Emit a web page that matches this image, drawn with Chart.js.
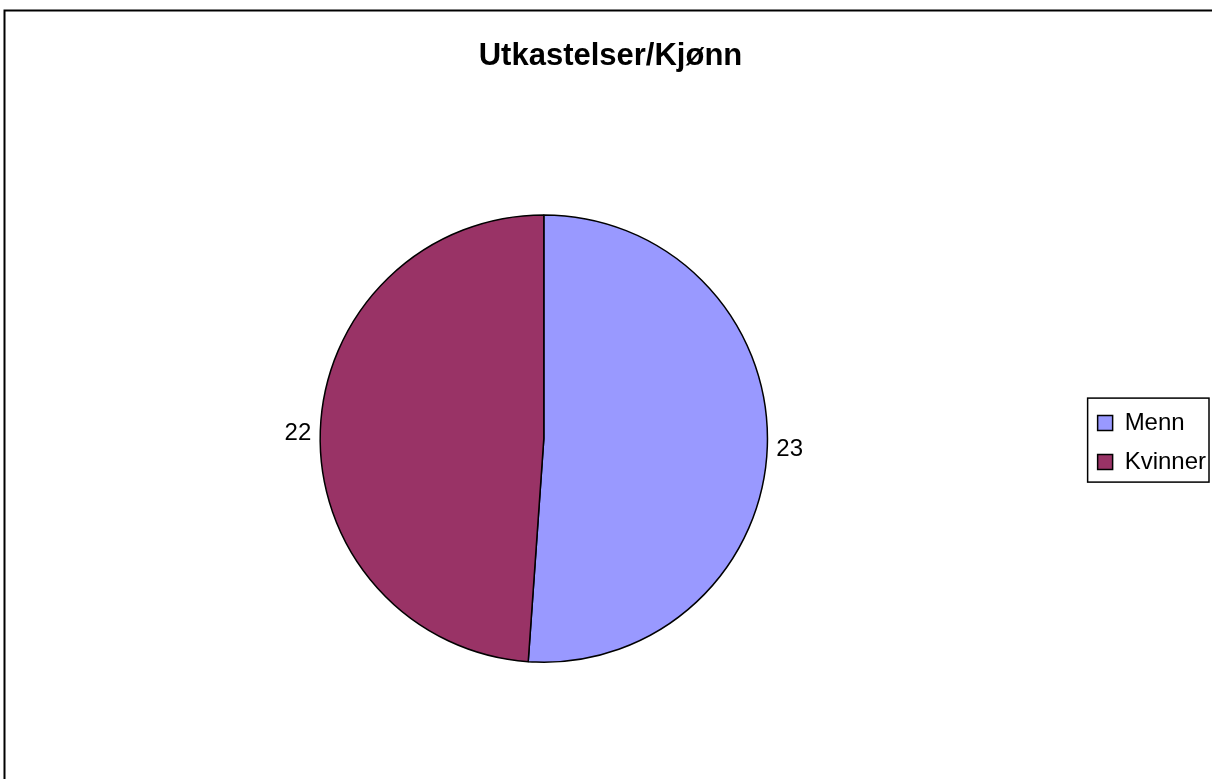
<!DOCTYPE html>
<html lang="no">
<head>
    <meta charset="UTF-8">
    <title>Utkastelser/Kjønn</title>
    <script src="https://cdn.jsdelivr.net/npm/chart.js"></script>
    <style>
        body {
            margin: 0;
            background: white;
        }
        #chart {
            display: block;
        }
    </style>
</head>
<body>
    <canvas id="chart" width="1212" height="779"></canvas>
    <script>
        const categories = ["Menn", "Kvinner"];
        const values = [23, 22];
        const colors = ["#9999FF", "#993366"];

        const fontFamily = "'Liberation Sans', Arial, sans-serif";

        // frame around the whole chart (only top and left edges are visible)
        const framePlugin = {
            id: "frame",
            beforeDraw(chart) {
                const ctx = chart.ctx;
                ctx.save();
                ctx.fillStyle = "white";
                ctx.fillRect(0, 0, chart.width, chart.height);
                ctx.strokeStyle = "black";
                ctx.lineWidth = 2;
                ctx.beginPath();
                ctx.moveTo(4.5, chart.height);
                ctx.lineTo(4.5, 10.5);
                ctx.lineTo(chart.width, 10.5);
                ctx.stroke();
                ctx.restore();
            }
        };

        // value labels just outside each slice
        const valueLabels = {
            id: "valueLabels",
            afterDatasetsDraw(chart) {
                const ctx = chart.ctx;
                const meta = chart.getDatasetMeta(0);
                ctx.save();
                ctx.font = "24px " + fontFamily;
                ctx.fillStyle = "black";
                ctx.textBaseline = "middle";
                meta.data.forEach((arc, i) => {
                    const p = arc.getProps(["x", "y", "startAngle", "endAngle", "outerRadius"], true);
                    const mid = (p.startAngle + p.endAngle) / 2;
                    const r = p.outerRadius + 9;
                    const x = p.x + Math.cos(mid) * r;
                    const y = p.y + Math.sin(mid) * r + 3;
                    ctx.textAlign = Math.cos(mid) >= 0 ? "left" : "right";
                    ctx.fillText(values[i], x, y);
                });
                ctx.restore();
            }
        };

        // centre the legend next to the pie instead of the full canvas height
        const legendPlace = {
            id: "legendPlace",
            afterLayout(chart) {
                const lg = chart.legend;
                const area = chart.chartArea;
                lg.top = area.top + 4;
                lg.bottom = area.bottom + 4;
                lg.height = lg.bottom - lg.top;
                lg.left += 4;
                lg.right += 4;
            }
        };

        // box drawn around the legend
        const legendBox = {
            id: "legendBox",
            afterDraw(chart) {
                const boxes = chart.legend.legendHitBoxes;
                if (!boxes || !boxes.length) return;
                const first = boxes[0];
                const last = boxes[boxes.length - 1];
                let right = 0;
                boxes.forEach(b => { right = Math.max(right, b.left + b.width); });
                const ctx = chart.ctx;
                ctx.save();
                ctx.strokeStyle = "black";
                ctx.lineWidth = 1.5;
                ctx.strokeRect(first.left - 10, first.top - 13, right - first.left + 13, last.top + last.height + 8 - (first.top - 13));
                ctx.restore();
            }
        };

        new Chart(document.getElementById("chart"), {
            type: "pie",
            data: {
                labels: categories,
                datasets: [{
                    data: values,
                    backgroundColor: colors,
                    borderColor: "black",
                    borderWidth: 1.5
                }]
            },
            options: {
                responsive: false,
                animation: false,
                layout: {
                    padding: { left: 9, top: 0, right: 0, bottom: 116 }
                },
                plugins: {
                    title: {
                        display: true,
                        text: "Utkastelser/Kjønn",
                        color: "black",
                        font: { family: fontFamily, size: 31, weight: "bold" },
                        padding: { top: 38, bottom: 139 }
                    },
                    legend: {
                        position: "right",
                        labels: {
                            color: "black",
                            boxWidth: 15,
                            boxHeight: 15,
                            padding: 15,
                            font: { family: fontFamily, size: 24 }
                        }
                    },
                    tooltip: { enabled: false }
                }
            },
            plugins: [framePlugin, legendPlace, valueLabels, legendBox]
        });
    </script>
</body>
</html>
